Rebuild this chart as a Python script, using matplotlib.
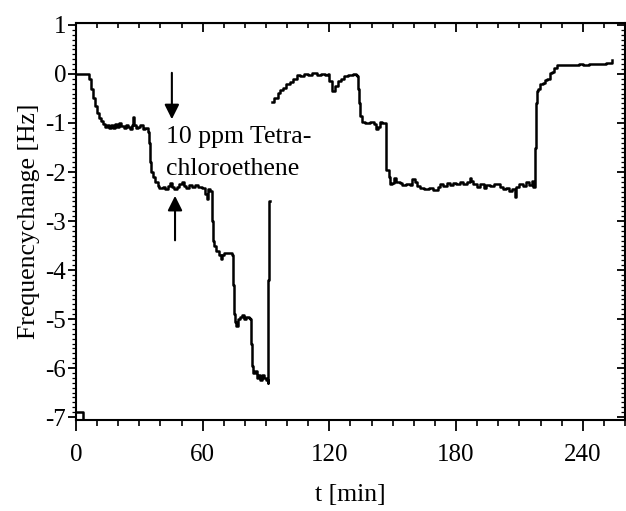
import numpy as np
import matplotlib
matplotlib.use("Agg")
import matplotlib.pyplot as plt
from matplotlib.ticker import MultipleLocator

plt.rcParams['font.family'] = ['Liberation Serif', 'DejaVu Serif']
plt.rcParams['axes.unicode_minus'] = False

# ---- data (time in min, frequency change in Hz) ----
t1 = [0, 5.2, 6, 7, 8, 9, 10, 11, 12, 12.8,
      13.5, 14.5, 15.5, 16.5, 17.5, 18.5, 19.5, 20.5, 21.5, 22.5, 23.5, 24.5, 25.5,
      26.5, 27, 27.5, 28.5, 29.5, 30.5, 31.5, 32.5, 33.5, 34.1,
      34.6, 35, 35.5, 36.5, 37.5, 38.8,
      39.5, 41, 42, 43.5, 44.5, 45.5, 46.5, 48, 49, 50, 51, 52, 53.5, 55, 56.5, 58,
      59.5, 61, 62, 62.5, 63.5, 64.4,
      64.6, 64.8, 65.5, 66.5, 67.5, 68.5, 69.3, 70, 71.5, 73.5, 74,
      74.3, 74.6, 75.2, 75.8, 76.5, 77.5, 78.6, 79.5, 80.5, 82, 82.5,
      82.8, 83.3, 84, 84.8, 85.5, 86.3, 87, 88, 89, 90, 90.9,
      91.0, 91.2, 92,
      92.8, 94, 95.5, 96.6, 98, 99.5, 101.3, 103, 104.6, 106, 108, 110, 112, 114, 116,
      118, 119.3, 120, 121.2, 122.5, 124, 125.5, 127, 129, 131, 132.5, 133,
      133.5, 134, 134.7, 135.4, 137, 139, 141, 142, 143, 144, 145, 146.3,
      146.6, 147, 148, 148.7,
      149.5, 150.5, 151.5, 153.4, 154.5, 156.5, 158.1, 159, 160.5, 161.5, 163, 165,
      167, 169.2, 170.5, 171.5, 172.3, 174, 175.5, 177, 178.5, 180.2, 181.8, 183.5,
      185, 186.5, 187.3, 188.1, 190, 191.5, 193, 194.4, 196, 198, 200.7, 202, 203.5,
      205, 206.5, 207.8, 208.6, 210, 211.5, 213, 214.5, 216, 216.5, 217.3,
      217.6, 218, 218.4, 219, 219.7, 221, 222, 223, 224.4, 225.5, 226.5, 227.7,
      230, 233, 236, 238, 240, 243, 246, 249, 251, 253, 253.7]
f1 = [0, 0, -0.1, -0.3, -0.5, -0.65, -0.8, -0.9, -0.95, -1.02,
      -1.08, -1.05, -1.1, -1.04, -1.1, -1.02, -1.08, -1.0, -1.06, -1.1, -1.04, -1.08, -1.12,
      -1.05, -0.88, -1.05, -1.1, -1.08, -1.05, -1.12, -1.1, -1.1, -1.18,
      -1.4, -1.8, -2.0, -2.1, -2.2, -2.28,
      -2.32, -2.3, -2.35, -2.28, -2.22, -2.3, -2.35, -2.3, -2.25, -2.2, -2.28, -2.32, -2.26, -2.3, -2.27, -2.3,
      -2.33, -2.45, -2.55, -2.35, -2.38, -2.4,
      -3.0, -3.4, -3.5, -3.62, -3.7, -3.78, -3.7, -3.65, -3.65, -3.65, -3.7,
      -4.3, -4.9, -5.05, -5.15, -5.0, -4.95, -4.92, -5.0, -4.95, -4.98, -5.0,
      -5.5, -5.95, -6.1, -6.05, -6.2, -6.15, -6.25, -6.15, -6.2, -6.25, -6.3,
      -4.2, -2.6, np.nan,
      -0.57, -0.48, -0.38, -0.33, -0.28, -0.2, -0.16, -0.1, -0.03, -0.05, 0.0, -0.03, 0.02, -0.02, 0.0,
      -0.02, 0.0, -0.15, -0.35, -0.25, -0.15, -0.1, -0.05, -0.02, 0.0, -0.02, -0.05,
      -0.3, -0.6, -0.85, -0.97, -1.0, -0.98, -1.02, -1.12, -1.08, -0.98, -1.0, -1.0,
      -1.5, -1.95, -2.1, -2.25,
      -2.22, -2.12, -2.2, -2.22, -2.27, -2.25, -2.27, -2.15, -2.2, -2.28, -2.33, -2.35,
      -2.33, -2.37, -2.36, -2.3, -2.25, -2.28, -2.22, -2.27, -2.22, -2.25, -2.2, -2.25,
      -2.2, -2.13, -2.18, -2.24, -2.3, -2.25, -2.32, -2.26, -2.28, -2.25, -2.3, -2.35, -2.32,
      -2.38, -2.35, -2.5, -2.3, -2.25, -2.28, -2.2, -2.26, -2.18, -2.3, -2.25,
      -1.5, -0.6, -0.35, -0.3, -0.2, -0.18, -0.12, -0.1, 0.02, 0.05, 0.12, 0.18,
      0.18, 0.19, 0.18, 0.2, 0.19, 0.2, 0.2, 0.21, 0.22, 0.23, 0.29]

# small mark at the start, bottom-left
t0 = [0, 3.3, 3.3]
f0 = [-6.9, -6.9, -7.05]

x_ticks = [0, 60, 120, 180, 240]
y_ticks = [1, 0, -1, -2, -3, -4, -5, -6, -7]
annot_line1 = "10 ppm Tetra-"
annot_line2 = "chloroethene"

fig = plt.figure(figsize=(6.26, 5.11), dpi=100)
ax = fig.add_axes([0.1214, 0.178, 0.877, 0.777])

ax.plot(t1, f1, color='black', lw=1.8, drawstyle='steps-post')
ax.plot(t0, f0, color='black', lw=1.8)

ax.set_xlim(0, 260)
ax.set_ylim(-7.06, 1.04)
ax.set_xticks(x_ticks)
ax.set_yticks(y_ticks)
ax.xaxis.set_minor_locator(MultipleLocator(10))
ax.yaxis.set_minor_locator(MultipleLocator(0.1))

for s in ax.spines.values():
    s.set_linewidth(1.5)

ax.tick_params(axis='x', which='major', direction='out', length=8, width=1.3, labelsize=18, pad=9)
ax.tick_params(axis='x', which='minor', direction='out', length=4.5, width=1.2)
ax.tick_params(axis='y', which='major', direction='out', length=6, width=1.3, labelsize=18, pad=1)
ax.tick_params(axis='y', which='minor', direction='out', length=3, width=0.9)

sx = ax.secondary_xaxis('top')
sx.set_xticks(x_ticks)
sx.xaxis.set_minor_locator(MultipleLocator(10))
sx.tick_params(which='major', direction='in', length=6.5, width=1.3, labeltop=False)
sx.tick_params(which='minor', direction='in', length=3.5, width=1.2)
sx.set_xticklabels([])

sy = ax.secondary_yaxis('right')
sy.set_yticks(y_ticks)
sy.yaxis.set_minor_locator(MultipleLocator(0.1))
sy.tick_params(which='major', direction='in', length=6, width=1.3, labelright=False)
sy.tick_params(which='minor', direction='in', length=3, width=0.9)
sy.set_yticklabels([])

ax.set_xlabel("t [min]", fontsize=18.5, labelpad=13)
ax.set_ylabel("Frequencychange [Hz]", fontsize=18.5, labelpad=4)

# baselines
ax.text(42.5, -1.41, annot_line1, fontsize=18.5, ha='left', va='baseline')
ax.text(42.5, -2.06, annot_line2, fontsize=18.5, ha='left', va='baseline')

ax.annotate('', xy=(45.4, -0.98), xytext=(45.4, 0.08),
            arrowprops=dict(arrowstyle='-|>', color='black', lw=1.5, mutation_scale=22))
ax.annotate('', xy=(46.9, -2.43), xytext=(46.9, -3.45),
            arrowprops=dict(arrowstyle='-|>', color='black', lw=1.5, mutation_scale=22))

fig.savefig("out.png", dpi=100)
